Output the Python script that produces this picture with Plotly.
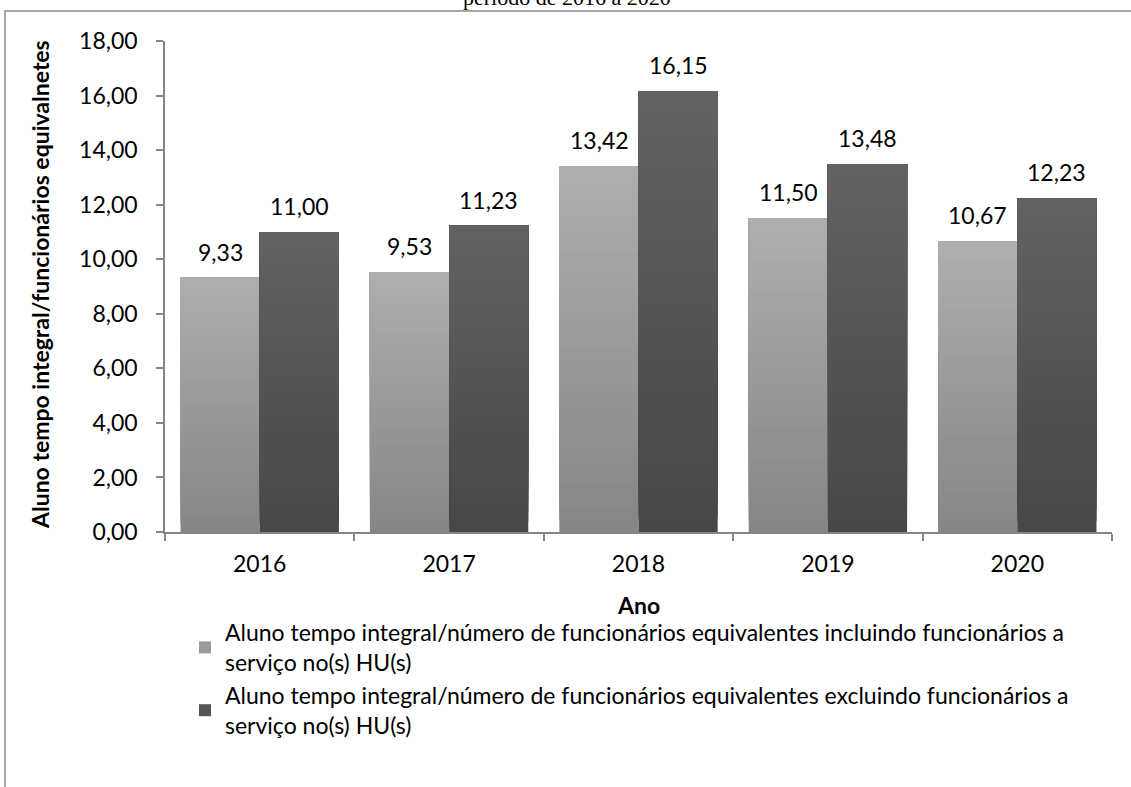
import plotly.graph_objects as go

categories = ["2016", "2017", "2018", "2019", "2020"]
incluindo = [9.33, 9.53, 13.42, 11.50, 10.67]
excluindo = [11.00, 11.23, 16.15, 13.48, 12.23]
series_names = [
    "Aluno tempo integral/número de funcionários equivalentes incluindo funcionários a<br>serviço no(s) HU(s)",
    "Aluno tempo integral/número de funcionários equivalentes excluindo funcionários a<br>serviço no(s) HU(s)",
]
y_title = "Aluno tempo integral/funcionários equivalnetes"
x_title = "Ano"
title_text = "período de 2016 a 2020"

FONT = "Lato"
FS = 23
W, H = 1131, 787
L, R, T, B = 165, 19, 41, 255
pw, ph = W - L - R, H - T - B

def px_x(p):
    return (p - L) / pw

def px_y(p):
    return (H - B - p) / ph

def lerp(c0, c1, t):
    return "rgb(%d,%d,%d)" % tuple(round(a + (b - a) * t) for a, b in zip(c0, c1))

N = 30
styles = [
    dict(vals=incluindo, bottom=(134, 134, 134), top=(174, 174, 174), offset=-0.418),
    dict(vals=excluindo, bottom=(71, 71, 71), top=(98, 98, 98), offset=0.0),
]
width = 0.418

fig = go.Figure()
for si, st in enumerate(styles):
    vals = st["vals"]
    for k in range(N):
        fig.add_trace(go.Bar(
            x=categories,
            y=[v * (1 - k / N) for v in vals],
            base=[v * k / N for v in vals],
            offset=st["offset"], width=width,
            marker=dict(color=lerp(st["bottom"], st["top"], k / (N - 1)), line=dict(width=0)),
            name=series_names[si],
            legendgroup="s%d" % si,
            showlegend=(k == N // 2),
            hoverinfo="skip",
        ))

annotations = []
for si, st in enumerate(styles):
    for i, v in enumerate(st["vals"]):
        annotations.append(dict(
            x=i, y=v, xref="x", yref="y",
            text=("%.2f" % v).replace(".", ","),
            showarrow=False, xanchor="center", yanchor="middle", yshift=26,
            xshift=(-39.5 if si == 0 else 39.5),
            font=dict(family=FONT, size=FS, color="black"),
        ))

annotations.append(dict(
    x=px_x(40), y=px_y(285), xref="paper", yref="paper", textangle=-90,
    xanchor="center", yanchor="middle",
    text="<b>%s</b>" % y_title, showarrow=False,
    font=dict(family=FONT, size=FS, color="black"),
))
annotations.append(dict(
    x=0.5, y=px_y(605), xref="paper", yref="paper", xanchor="center", yanchor="middle",
    text="<b>%s</b>" % x_title, showarrow=False,
    font=dict(family=FONT, size=FS, color="black"),
))
annotations.append(dict(
    x=px_x(567), y=px_y(12), xref="paper", yref="paper", xanchor="center", yanchor="bottom",
    text=title_text, showarrow=False,
    font=dict(family="Liberation Serif", size=22, color="black"),
))

fig.update_layout(
    width=W, height=H,
    margin=dict(l=L, r=R, t=T, b=B, autoexpand=False),
    paper_bgcolor="white", plot_bgcolor="white",
    barmode="overlay",
    separators=",.",
    font=dict(family=FONT, size=FS, color="black"),
    showlegend=True,
    legend=dict(
        x=px_x(185), y=px_y(611), xanchor="left", yanchor="top",
        font=dict(family=FONT, size=FS, color="black"),
        tracegroupgap=0, itemsizing="constant",
        bgcolor="rgba(0,0,0,0)",
    ),
    annotations=annotations,
    shapes=[dict(
        type="rect", xref="paper", yref="paper",
        x0=px_x(5), x1=px_x(1140), y0=px_y(11), y1=px_y(800),
        line=dict(color="#8a8a8a", width=1.5), fillcolor="rgba(0,0,0,0)", layer="below",
    )],
)
fig.update_xaxes(
    type="category", range=[-0.5, 4.5],
    showline=True, linecolor="#868686", linewidth=1.5,
    ticks="outside", tickson="boundaries", ticklen=7, tickcolor="#868686", tickwidth=1.5,
    ticklabelstandoff=11, showgrid=False, zeroline=False,
    tickfont=dict(family=FONT, size=FS, color="black"),
)
fig.update_yaxes(
    range=[0, 18], dtick=2, tick0=0, tickformat=".2f",
    showline=True, linecolor="#868686", linewidth=1.5,
    ticks="outside", ticklen=7, tickcolor="#868686", tickwidth=1.5,
    ticklabelstandoff=14, showgrid=False, zeroline=False,
    tickfont=dict(family=FONT, size=FS, color="black"),
)

fig.write_html(
    "out.html",
    config={"displayModeBar": False},
    post_script="document.body.style.margin='0';document.body.style.overflow='hidden';",
)
